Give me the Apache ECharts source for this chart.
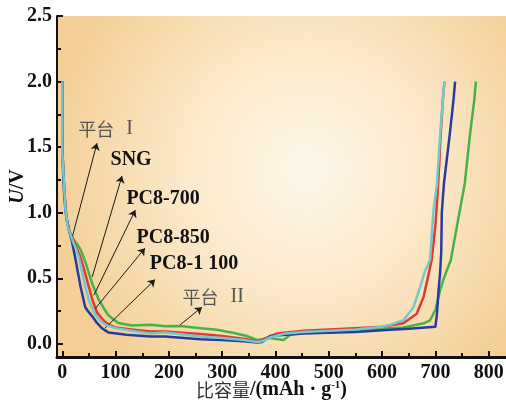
<!DOCTYPE html>
<html>
<head>
<meta charset="utf-8">
<script src="https://cdn.jsdelivr.net/npm/echarts@6/dist/echarts.min.js"></script>
<style>
  html, body { margin: 0; padding: 0; background: #fff; }
  #chart { width: 506px; height: 400px; }
</style>
</head>
<body>
<div id="chart"></div>
<script>
// 各样品的充放电曲线 [比容量, 电压]
var seriesNames = ['SNG', 'PC8-700', 'PC8-1 100', 'PC8-850'];
var seriesColors = ['#45b34a', '#e23a2e', '#283c9c', '#72c8cc'];

var sngData = [[0, 2.0], [0, 1.5], [2, 1.3], [5, 1.1], [8, 0.95], [13, 0.86], [20, 0.8], [28, 0.76],
  [34, 0.72], [40, 0.66], [46, 0.59], [56, 0.46], [68, 0.34], [78, 0.27], [86, 0.22], [95, 0.19],
  [105, 0.16], [118, 0.15], [131, 0.14], [165, 0.145], [193, 0.135], [221, 0.137], [260, 0.12],
  [290, 0.107], [320, 0.085], [346, 0.06], [365, 0.03], [375, 0.035], [390, 0.045], [405, 0.035],
  [415, 0.03], [428, 0.07], [453, 0.09], [500, 0.1], [550, 0.105], [600, 0.115], [640, 0.125],
  [678, 0.157], [690, 0.18], [700, 0.26], [709, 0.41], [715, 0.49], [729, 0.64], [745, 1.0],
  [755, 1.22], [765, 1.6], [773, 1.86], [776, 2.0]];

var pc700Data = [[0, 2.0], [0, 1.5], [2, 1.3], [5, 1.1], [8, 0.95], [13, 0.86], [20, 0.8], [27, 0.73],
  [34, 0.66], [40, 0.58], [46, 0.49], [56, 0.34], [65, 0.24], [77, 0.18], [88, 0.145], [99, 0.125],
  [130, 0.11], [165, 0.094], [193, 0.095], [259, 0.076], [300, 0.06], [346, 0.036], [368, 0.018],
  [380, 0.04], [403, 0.08], [453, 0.1], [500, 0.11], [550, 0.12], [600, 0.13], [640, 0.157],
  [665, 0.23], [678, 0.36], [685, 0.49], [693, 0.64], [700, 0.9], [705, 1.2], [710, 1.6],
  [714, 1.86], [717, 2.0]];

var pc1100Data = [[0, 2.0], [0, 1.5], [2, 1.25], [4, 1.1], [7, 0.98], [12, 0.88], [18, 0.78], [24, 0.66],
  [29, 0.55], [34, 0.44], [43, 0.28], [50, 0.24], [56, 0.21], [65, 0.16], [74, 0.12], [87, 0.086],
  [120, 0.07], [165, 0.056], [193, 0.056], [259, 0.036], [300, 0.03], [340, 0.02], [365, 0.01],
  [375, 0.015], [390, 0.06], [453, 0.08], [500, 0.085], [550, 0.09], [615, 0.107], [650, 0.115],
  [700, 0.13], [703, 0.23], [706, 0.41], [709, 0.55], [711, 0.7], [712, 1.0], [716, 1.22],
  [727, 1.6], [734, 1.86], [737, 2.0]];

var pc850Data = [[0, 2.0], [0, 1.45], [2, 1.3], [4, 1.15], [6, 1.02], [10, 0.9], [18, 0.8], [25, 0.73],
  [31, 0.66], [40, 0.49], [49, 0.34], [55, 0.28], [62, 0.22], [70, 0.18], [81, 0.145], [100, 0.12],
  [130, 0.1], [165, 0.08], [193, 0.086], [259, 0.056], [300, 0.045], [340, 0.03], [365, 0.015],
  [375, 0.02], [390, 0.05], [420, 0.08], [453, 0.09], [500, 0.1], [550, 0.11], [600, 0.13],
  [615, 0.145], [640, 0.18], [659, 0.28], [672, 0.44], [680, 0.55], [690, 0.64], [696, 1.0],
  [703, 1.22], [709, 1.6], [714, 1.86], [717, 2.0]];

var allData = [sngData, pc700Data, pc1100Data, pc850Data];

// 刻度
var xMajor = [0, 100, 200, 300, 400, 500, 600, 700, 800];
var xMinor = [50, 150, 250, 350, 450, 550, 650, 750];
var yMajor = [0, 0.5, 1.0, 1.5, 2.0, 2.5];
var yMinor = [0.25, 0.75, 1.25, 1.75, 2.25];

// 标注文字及箭头（数据坐标）
var annoText = ['{cn|平台}{ro|I}', '{b|SNG}', '{b|PC8-700}', '{b|PC8-850}', '{b|PC8-1 100}', '{cn|平台}{ro|II}'];
var annoAt = [[81, 1.64], [129, 1.40], [189, 1.105], [208, 0.808], [247, 0.61], [283, 0.358]];
var arrowFrom = [[19, 0.82], [56, 0.51], [59, 0.37], [62, 0.27], [80, 0.12], [221, 0.145]];
var arrowTo = [[65, 1.53], [112, 1.28], [137, 1.02], [155, 0.73], [174, 0.49], [262, 0.28]];

var serif = 'Liberation Serif';
var chart = echarts.init(document.getElementById('chart'));

var series = allData.map(function (d, i) {
    return {
        name: seriesNames[i],
        type: 'line',
        data: d,
        showSymbol: false,
        smooth: false,
        lineStyle: {color: seriesColors[i], width: 2.5},
        z: 3 + i
    };
});

// 标注单独放一个空系列
series.push({
    type: 'line',
    data: [],
    z: 10,
    markLine: {
        silent: true,
        symbol: ['none', 'arrow'],
        symbolSize: 7,
        label: {show: false},
        lineStyle: {color: '#1a1a1a', width: 1, type: 'solid'},
        data: arrowFrom.map(function (p, i) {
            return [{coord: p}, {coord: arrowTo[i]}];
        })
    },
    markPoint: {
        silent: true,
        symbol: 'circle',
        symbolSize: 1,
        itemStyle: {color: 'transparent'},
        label: {
            show: true,
            position: 'inside',
            rich: {
                cn: {fontFamily: 'Noto Sans CJK SC', fontSize: 18, color: '#555'},
                ro: {fontFamily: serif, fontSize: 20, color: '#555', padding: [0, 0, 0, 12]},
                b: {fontFamily: serif, fontSize: 20, fontWeight: 'bold', color: '#111'}
            }
        },
        data: annoAt.map(function (p, i) {
            return {coord: p, label: {formatter: annoText[i]}};
        })
    }
});

var tickStyle = {color: '#111', width: 2};

chart.setOption({
    animation: false,
    grid: {
        left: 57, top: 16, width: 453, height: 341,
        outerBoundsMode: 'none',
        containLabel: false,
        show: true,
        borderWidth: 0,
        backgroundColor: new echarts.graphic.RadialGradient(0.55, 0.45, 0.75, [
            {offset: 0, color: '#fdf7ea'},
            {offset: 0.5, color: '#fbe8c8'},
            {offset: 1, color: '#f4d098'}
        ])
    },
    xAxis: [{
        type: 'value', min: -10, max: 840,
        splitLine: {show: false},
        axisLine: {onZero: false, lineStyle: {color: '#111', width: 3}},
        axisTick: {inside: true, length: 6, lineStyle: tickStyle, customValues: xMajor},
        axisLabel: {
            customValues: xMajor, margin: 6,
            fontFamily: serif, fontWeight: 'bold', fontSize: 20, color: '#111'
        },
        name: '{cn|比容量}{b|/(mAh · g}{sup|-1}{b|)}',
        nameLocation: 'middle',
        nameGap: 23,
        nameMoveOverlap: false,
        nameTextStyle: {
            padding: [0, 24, 0, 0],
            rich: {
                cn: {fontFamily: 'Noto Sans CJK SC', fontSize: 18, color: '#333'},
                b: {fontFamily: serif, fontWeight: 'bold', fontSize: 20, color: '#111'},
                sup: {fontFamily: serif, fontWeight: 'bold', fontSize: 11, color: '#111', verticalAlign: 'top', padding: [0, 0, 9, 0]}
            }
        }
    }, {
        type: 'value', min: -10, max: 840, position: 'bottom',
        splitLine: {show: false},
        axisLine: {show: false, onZero: false},
        axisLabel: {show: false},
        axisTick: {inside: true, length: 4, lineStyle: tickStyle, customValues: xMinor}
    }],
    yAxis: [{
        type: 'value', min: -0.1, max: 2.5,
        splitLine: {show: false},
        axisLine: {onZero: false, lineStyle: {color: '#111', width: 2}},
        axisTick: {inside: true, length: 6, lineStyle: tickStyle, customValues: yMajor},
        axisLabel: {
            customValues: yMajor, margin: 5,
            formatter: function (v) { return v.toFixed(1); },
            fontFamily: serif, fontWeight: 'bold', fontSize: 20, color: '#111'
        },
        name: '{i|U}{b|/V}',
        nameLocation: 'middle',
        nameRotate: 90,
        nameGap: 29,
        nameMoveOverlap: false,
        nameTextStyle: {
            rich: {
                i: {fontFamily: serif, fontStyle: 'italic', fontWeight: 'bold', fontSize: 20, color: '#111'},
                b: {fontFamily: serif, fontWeight: 'bold', fontSize: 20, color: '#111'}
            }
        }
    }, {
        type: 'value', min: -0.1, max: 2.5, position: 'left',
        splitLine: {show: false},
        axisLine: {show: false, onZero: false},
        axisLabel: {show: false},
        axisTick: {inside: true, length: 4, lineStyle: tickStyle, customValues: yMinor}
    }],
    series: series
});
</script>
</body>
</html>
